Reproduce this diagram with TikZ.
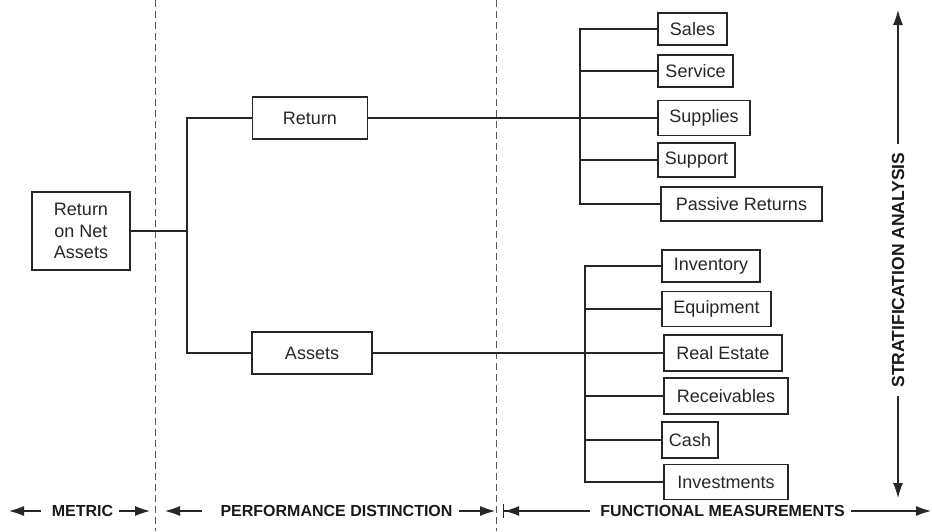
\documentclass[tikz,border=0pt]{standalone}
\usepackage{fontspec}
\setmainfont{Liberation Sans}
\usetikzlibrary{arrows.meta}
\begin{document}
\begin{tikzpicture}[x=1pt,y=-1pt,
  ink/.style={draw=black!85, line width=1.15pt},
  box/.style={ink, rectangle, inner sep=0pt, align=center,
    font=\fontsize{18}{21.5}\selectfont, text=black!85},
  divider/.style={draw=black!65, line width=0.9pt, dash pattern=on 7pt off 4pt},
  band/.style={font=\bfseries\fontsize{16}{16}\selectfont, inner sep=0pt, text=black!90},
  tip/.style={ink, -{Latex[length=15pt,width=10pt]}}]
\useasboundingbox (0,0) rectangle (932,531);

% section dividers
\draw[divider] (155,0) -- (155,531);
\draw[divider] (496,0) -- (496,531);

% metric
\node[box, minimum width=98pt, minimum height=78pt] (rona) at (81,231)
  {Return\\on Net\\Assets};

% performance distinction
\node[box, minimum width=115pt, minimum height=42pt] (ret) at (310,118) {Return};
\node[box, minimum width=120pt, minimum height=42pt] (ast) at (312,353) {Assets};

% functional measurements: return side
\node[box, minimum width=69pt,  minimum height=32pt] (sales) at (692.5,29)  {Sales};
\node[box, minimum width=75pt,  minimum height=32pt] (serv)  at (695.5,71)  {Service};
\node[box, minimum width=92pt,  minimum height=35pt] (supp)  at (704,118)   {Supplies};
\node[box, minimum width=77pt,  minimum height=34pt] (supt)  at (696.5,160) {Support};
\node[box, minimum width=161pt, minimum height=34pt] (pass)  at (741.5,204) {Passive Returns};

% functional measurements: asset side
\node[box, minimum width=98pt,  minimum height=32pt] (inv)   at (711,266)   {Inventory};
\node[box, minimum width=109pt, minimum height=35pt] (equip) at (716.5,309) {Equipment};
\node[box, minimum width=118pt, minimum height=36pt] (real)  at (723,353)   {Real Estate};
\node[box, minimum width=124pt, minimum height=36pt] (recv)  at (726,396)   {Receivables};
\node[box, minimum width=56pt,  minimum height=36pt] (cash)  at (690,440)   {Cash};
\node[box, minimum width=124pt, minimum height=35pt] (invs)  at (726,482)   {Investments};

% tree junctions
\coordinate (jm) at (187,231);
\coordinate (jr) at (580,0);
\coordinate (ja) at (585,0);

% metric to performance
\draw[ink] (rona.east) -- (jm);
\draw[ink] (ret.west) -| (jm) |- (ast.west);

% return branch
\draw[ink] (ret.east) -- (supp.west);
\draw[ink] (sales.west) -| (jr |- pass.west) -- (pass.west);
\draw[ink] (serv.west) -- (serv.west -| jr);
\draw[ink] (supt.west) -- (supt.west -| jr);

% assets branch
\draw[ink] (ast.east) -- (real.west);
\draw[ink] (inv.west) -| (ja |- invs.west) -- (invs.west);
\draw[ink] (equip.west) -- (equip.west -| ja);
\draw[ink] (recv.west) -- (recv.west -| ja);
\draw[ink] (cash.west) -- (cash.west -| ja);

% column captions along the bottom
\node[band] (metric) at (82.5,511) {METRIC};
\node[band] (perf)   at (336.5,511) {PERFORMANCE DISTINCTION};
\node[band] (func)   at (722.5,511) {FUNCTIONAL MEASUREMENTS};
\coordinate (mL) at (9,511);
\coordinate (mR) at (150,511);
\coordinate (pL) at (165,511);
\coordinate (pR) at (495,511);
\coordinate (fL) at (503,511);
\coordinate (fR) at (931,511);
\draw[tip, shorten <=11pt] (metric.west) -- (mL);
\draw[tip, shorten <=6pt]  (metric.east) -- (mR);
\draw[tip, shorten <=18pt] (perf.west) -- (pL);
\draw[tip, shorten <=6pt]  (perf.east) -- (pR);
\draw[ink, {Bar[width=14pt]Latex[length=15pt,width=10pt]}-, shorten >=10pt] (fL) -- (func.west);
\draw[tip, shorten <=6pt]  (func.east) -- (fR);

% vertical caption on the right
\node[band, rotate=90, font=\bfseries\fontsize{17.5}{17.5}\selectfont] (strat) at (898,270)
  {STRATIFICATION ANALYSIS};
\coordinate (sUp) at (898,10);
\coordinate (sDn) at (898,498);
\draw[tip, shorten <=8pt] (strat.east) -- (sUp);
\draw[tip, shorten <=8pt] (strat.west) -- (sDn);
\end{tikzpicture}
\end{document}
